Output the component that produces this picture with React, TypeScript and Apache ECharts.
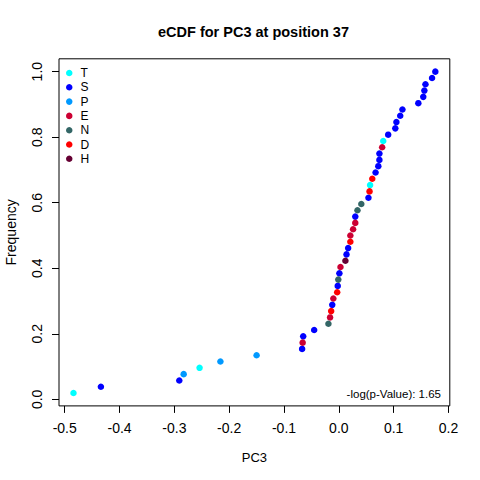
import React, { useEffect, useRef } from "react";
import * as echarts from "echarts";

// PC3 values (sorted) and residue group of each observation
const pc3Values = [
  -0.484, -0.434, -0.291, -0.283, -0.254, -0.216, -0.150, -0.067, -0.066, -0.065,
  -0.045, -0.019, -0.016, -0.014, -0.012, -0.010, -0.003, -0.002, -0.001, 0.001,
  0.003, 0.012, 0.014, 0.017, 0.021, 0.021, 0.026, 0.030, 0.030, 0.034,
  0.041, 0.054, 0.056, 0.057, 0.061, 0.067, 0.072, 0.074, 0.074, 0.079,
  0.081, 0.090, 0.103, 0.105, 0.112, 0.116, 0.145, 0.154, 0.156, 0.158,
  0.170, 0.176,
];
const residueGroups = [
  "T", "S", "S", "P", "T", "P", "P", "S", "E", "S",
  "S", "N", "E", "D", "S", "E", "D", "S", "N", "S",
  "E", "H", "S", "S", "D", "E", "E", "E", "S", "N",
  "N", "S", "D", "T", "D", "S", "S", "S", "S", "E",
  "T", "S", "S", "S", "S", "S", "S", "S", "S", "S",
  "S", "S",
];
const legendOrder = ["T", "S", "P", "E", "N", "D", "H"];
const groupColors = ["#00FFFF", "#0000FF", "#0099FF", "#CC0033", "#336666", "#FF0000", "#660033"];
const xTickValues = [-0.5, -0.4, -0.3, -0.2, -0.1, 0.0, 0.1, 0.2];
const yTickValues = [0.0, 0.2, 0.4, 0.6, 0.8, 1.0];
const titleText = "eCDF for PC3 at position 37";
const pValueText = "-log(p-Value): 1.65";
const xName = "PC3";
const yName = "Frequency";

const FONT = "'Liberation Sans', Arial, Helvetica, sans-serif";

export default function App() {
  const ref = useRef<HTMLDivElement>(null);

  useEffect(() => {
    document.body.style.margin = "0";
    if (!ref.current) return;
    const chart = echarts.init(ref.current, null, { renderer: "svg" });

    const n = pc3Values.length;
    const order = pc3Values.map((_, i) => i).sort((a, b) => pc3Values[a] - pc3Values[b]);
    const ecdf: { x: number; y: number; g: string }[] = order.map((idx, rank) => ({
      x: pc3Values[idx],
      y: (rank + 1) / n,
      g: residueGroups[idx],
    }));

    // R-style 4% range extension
    const xMinD = Math.min(...pc3Values);
    const xMaxD = Math.max(...pc3Values);
    const xr = xMaxD - xMinD;
    const yMinD = 1 / n;
    const yMaxD = 1;
    const yr = yMaxD - yMinD;

    const series = legendOrder.map((g, gi) => ({
      name: g,
      type: "scatter",
      symbol: "circle",
      symbolSize: 6.5,
      itemStyle: { color: groupColors[gi], opacity: 1 },
      emphasis: { disabled: true },
      data: ecdf.filter((p) => p.g === g).map((p) => [p.x, p.y]),
    }));

    chart.setOption({
      animation: false,
      title: [
        {
          text: titleText,
          left: 158,
          top: 24,
          padding: 0,
          textStyle: { fontFamily: FONT, fontSize: 14.5, fontWeight: "bold", color: "#000" },
        },
        {
          text: pValueText,
          right: 39,
          top: 388,
          padding: 0,
          textStyle: { fontFamily: FONT, fontSize: 11.5, fontWeight: "normal", color: "#000" },
        },
      ],
      legend: {
        orient: "vertical",
        left: 66,
        top: 67,
        padding: 0,
        itemWidth: 6.5,
        itemHeight: 6.5,
        itemGap: 2.3,
        icon: "circle",
        data: legendOrder,
        textStyle: { fontFamily: FONT, fontSize: 12, color: "#000", padding: [0, 0, 0, 3] },
        selectedMode: false,
      },
      grid: {
        left: 59,
        right: 30.2,
        top: 58.8,
        bottom: 74.1,
        containLabel: false,
        outerBoundsMode: "none",
        show: true,
        borderColor: "#000",
        borderWidth: 1,
        backgroundColor: "transparent",
      },
      xAxis: {
        type: "value",
        min: xMinD - 0.04 * xr,
        max: xMaxD + 0.04 * xr,
        name: xName,
        nameLocation: "middle",
        nameGap: 45,
        nameTextStyle: { fontFamily: FONT, fontSize: 13, color: "#000" },
        axisLine: { show: false, onZero: false },
        splitLine: { show: false },
        axisTick: {
          show: true,
          inside: false,
          length: 7,
          customValues: xTickValues,
          lineStyle: { color: "#000", width: 1 },
        },
        axisLabel: {
          show: true,
          customValues: xTickValues,
          margin: 15.5,
          fontFamily: FONT,
          fontSize: 14,
          color: "#000",
          formatter: (v: number) => v.toFixed(1),
        },
      },
      yAxis: {
        type: "value",
        min: yMinD - 0.04 * yr,
        max: yMaxD + 0.04 * yr,
        name: yName,
        nameLocation: "middle",
        nameGap: 41,
        nameTextStyle: { fontFamily: FONT, fontSize: 14, color: "#000" },
        axisLine: { show: false, onZero: false },
        splitLine: { show: false },
        axisTick: {
          show: true,
          inside: false,
          length: 7,
          customValues: yTickValues,
          lineStyle: { color: "#000", width: 1 },
        },
        axisLabel: {
          show: true,
          customValues: yTickValues,
          rotate: 90,
          margin: 15,
          fontFamily: FONT,
          fontSize: 14,
          color: "#000",
          formatter: (v: number) => v.toFixed(1),
        },
      },
      series,
    });

    return () => {
      chart.dispose();
    };
  }, []);

  return <div ref={ref} style={{ width: 480, height: 480, background: "#fff" }} />;
}
